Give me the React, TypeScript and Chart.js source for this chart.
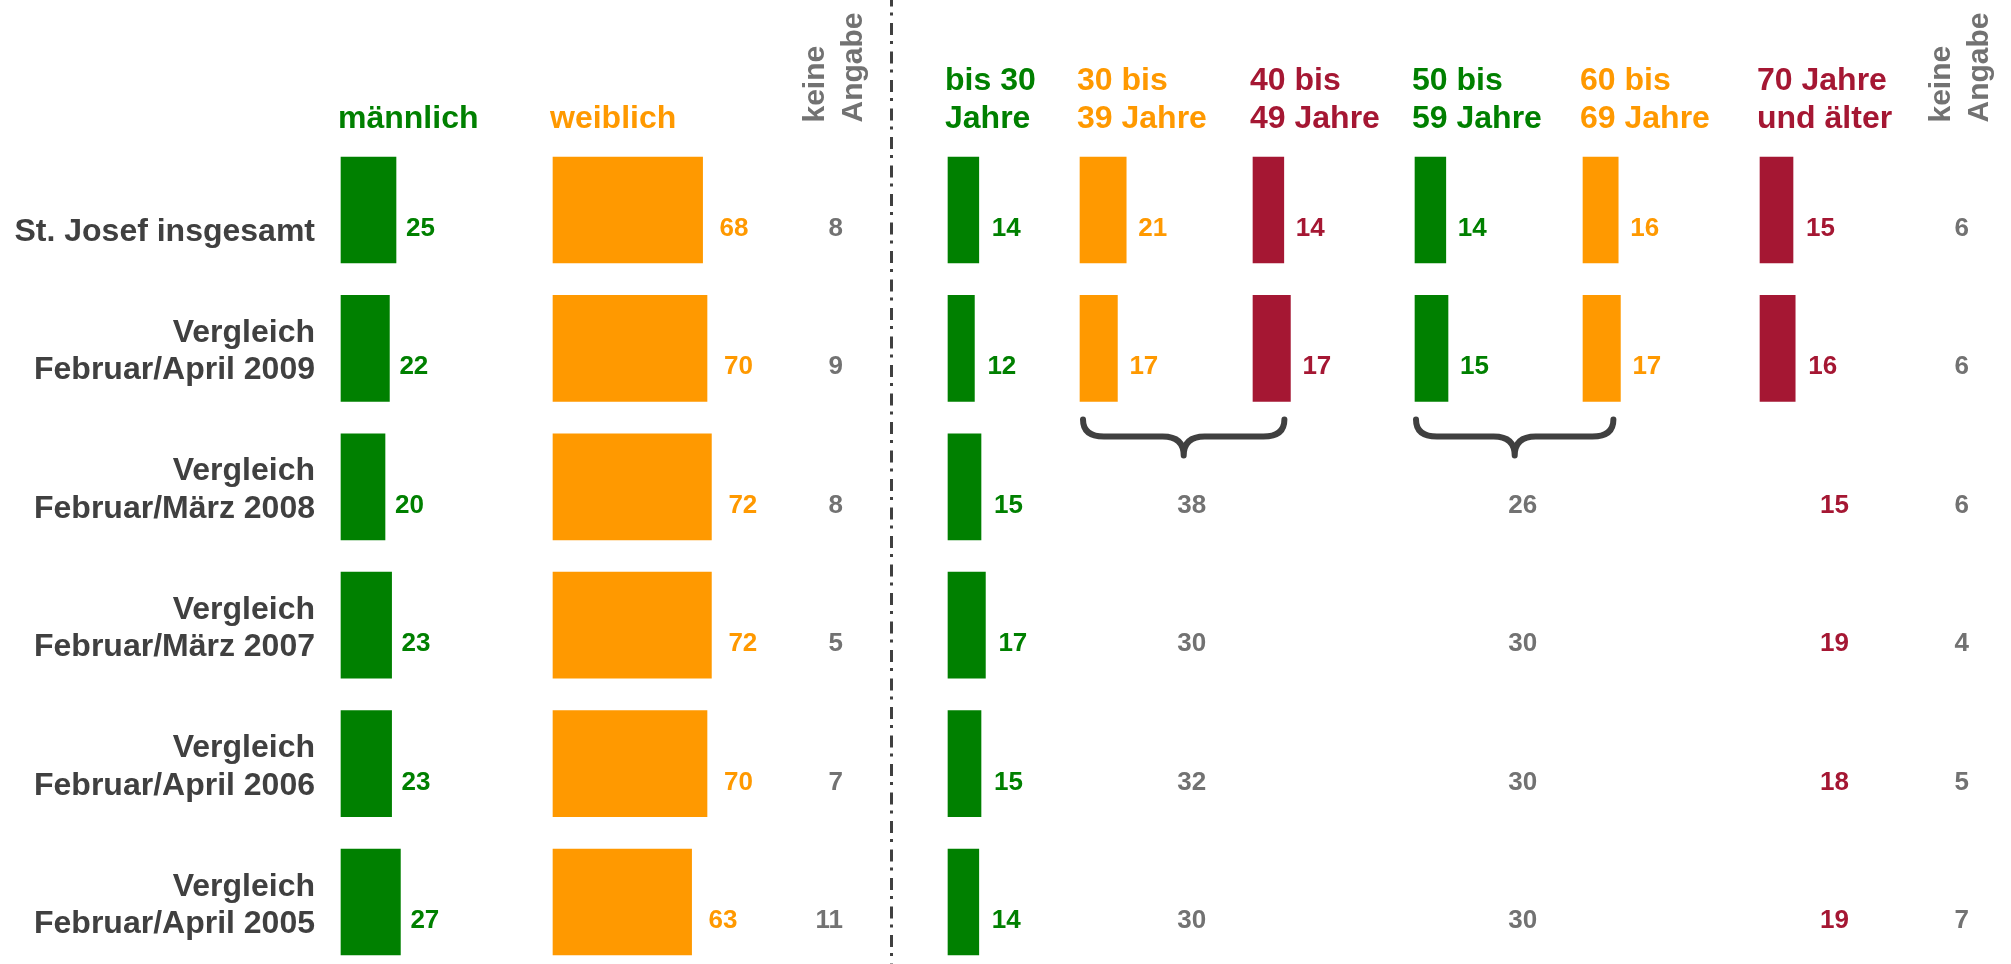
import React, { useEffect, useRef } from "react";
import { Chart, registerables } from "chart.js";

Chart.register(...registerables);

// ---------- data ----------
const rowLabels: string[][] = [
  ["St. Josef insgesamt"],
  ["Vergleich", "Februar/April 2009"],
  ["Vergleich", "Februar/März 2008"],
  ["Vergleich", "Februar/März 2007"],
  ["Vergleich", "Februar/April 2006"],
  ["Vergleich", "Februar/April 2005"],
];
const sexHeaders: string[][] = [["männlich"], ["weiblich"]];
const ageHeaders: string[][] = [
  ["bis 30", "Jahre"],
  ["30 bis", "39 Jahre"],
  ["40 bis", "49 Jahre"],
  ["50 bis", "59 Jahre"],
  ["60 bis", "69 Jahre"],
  ["70 Jahre", "und älter"],
];
const noAnswerHeader: string[] = ["keine", "Angabe"];

const male = [25, 22, 20, 23, 23, 27];
const female = [68, 70, 72, 72, 70, 63];
const noAnswerSex = [8, 9, 8, 5, 7, 11];

const age0029 = [14, 12, 15, 17, 15, 14];
const age3039 = [21, 17, null, null, null, null];
const age4049 = [14, 17, null, null, null, null];
const age3049 = [null, null, 38, 30, 32, 30];
const age5059 = [14, 15, null, null, null, null];
const age6069 = [16, 17, null, null, null, null];
const age5069 = [null, null, 26, 30, 30, 30];
const age70 = [15, 16, 15, 19, 18, 19];
const noAnswerAge = [6, 6, 6, 4, 5, 7];
const DETAIL_ROWS = 2; // rows with a full age breakdown drawn as bars

// ---------- style ----------
const FONT = '"Liberation Sans", Arial, Helvetica, sans-serif';
const GREEN = "#008000";
const ORANGE = "#FF9900";
const RED = "#A51733";
const GRAY = "#727272";
const DARK = "#404040";
const PX_PER_UNIT = 2.2;

const columns = [
  { id: "xMale", width: 212 },
  { id: "xFemale", width: 228 },
  { id: "xNoSex", width: 167 },
  { id: "xA0", width: 132 },
  { id: "xA1", width: 173 },
  { id: "xA2", width: 162 },
  { id: "xA3", width: 168 },
  { id: "xA4", width: 177 },
  { id: "xA5", width: 147 },
  { id: "xNoAge", width: 104 },
];

const barDs = (data: (number | null)[], xAxisID: string, color: string, gap: number) => ({
  data,
  xAxisID,
  yAxisID: "y",
  backgroundColor: color,
  borderWidth: 0,
  grouped: false,
  barThickness: 106,
  clip: false as const,
  labelGap: gap,
});

export default function App() {
  const ref = useRef<HTMLCanvasElement>(null);

  useEffect(() => {
    document.body.style.margin = "0";
    const scales: any = {
      y: { type: "category", offset: false, display: false, grid: { display: false } },
    };
    columns.forEach((c) => {
      scales[c.id] = {
        type: "linear",
        axis: "x",
        position: "bottom",
        stack: "cols",
        stackWeight: c.width,
        min: 0,
        max: c.width / PX_PER_UNIT,
        bounds: "data",
        display: false,
        grid: { display: false },
      };
    });

    const datasets = [
      barDs(male, "xMale", GREEN, 10),
      barDs(female, "xFemale", ORANGE, 17),
      barDs(age0029, "xA0", GREEN, 13),
      barDs(age3039, "xA1", ORANGE, 12),
      barDs(age4049, "xA2", RED, 12),
      barDs(age5059, "xA3", GREEN, 12),
      barDs(age6069, "xA4", ORANGE, 12),
      barDs(age70.map((v, i) => (i < DETAIL_ROWS ? v : null)), "xA5", RED, 13),
    ];

    const overlay = {
      id: "overlay",
      beforeDatasetsDraw(chart: any) {
        const ctx = chart.ctx;
        const sep = chart.scales.xNoSex.left + 110.5;
        ctx.save();
        ctx.strokeStyle = DARK;
        ctx.lineWidth = 3;
        ctx.setLineDash([12, 6, 3, 7.5]);
        ctx.lineDashOffset = 5.5;
        ctx.beginPath();
        ctx.moveTo(sep, 0);
        ctx.lineTo(sep, chart.height);
        ctx.stroke();
        ctx.restore();
      },
      afterDatasetsDraw(chart: any) {
        const ctx = chart.ctx;
        const y = chart.scales.y;
        const area = chart.chartArea;
        const S = chart.scales;
        ctx.save();
        ctx.textBaseline = "alphabetic";

        // row labels
        ctx.font = `bold 32px ${FONT}`;
        ctx.fillStyle = DARK;
        ctx.textAlign = "right";
        rowLabels.forEach((lines, i) => {
          const last = y.getPixelForValue(i) + 31;
          lines.forEach((t, k) => {
            ctx.fillText(t, area.left - 26, last - (lines.length - 1 - k) * 37.5);
          });
        });

        // column headers
        const headerBase = area.top - 82.5;
        const drawHeader = (lines: string[], x: number, color: string) => {
          ctx.font = `bold 32px ${FONT}`;
          ctx.fillStyle = color;
          ctx.textAlign = "left";
          lines.forEach((t, k) => {
            ctx.fillText(t, x, headerBase - (lines.length - 1 - k) * 38);
          });
        };
        drawHeader(sexHeaders[0], S.xMale.left - 3, GREEN);
        drawHeader(sexHeaders[1], S.xFemale.left - 3, ORANGE);
        const ageIds = ["xA0", "xA1", "xA2", "xA3", "xA4", "xA5"];
        const ageColors = [GREEN, ORANGE, RED, GREEN, ORANGE, RED];
        ageIds.forEach((id, k) => drawHeader(ageHeaders[k], S[id].left - 3, ageColors[k]));

        // rotated "keine Angabe" headers
        const drawRotated = (xc: number) => {
          ctx.save();
          ctx.font = `bold 30px ${FONT}`;
          ctx.fillStyle = GRAY;
          ctx.textAlign = "left";
          ctx.translate(xc, area.top - 87.5);
          ctx.rotate(-Math.PI / 2);
          ctx.fillText(noAnswerHeader[0], 0, -19);
          ctx.fillText(noAnswerHeader[1], 0, 19);
          ctx.restore();
        };
        const noSexX = S.xNoSex.left + 62;
        const noAgeX = S.xNoAge.left + 62;
        drawRotated(noSexX);
        drawRotated(noAgeX);

        // value labels next to bars
        ctx.font = `bold 26px ${FONT}`;
        ctx.textAlign = "left";
        chart.data.datasets.forEach((ds: any, d: number) => {
          const meta = chart.getDatasetMeta(d);
          meta.data.forEach((el: any, i: number) => {
            const v = ds.data[i];
            if (v === null || v === undefined) return;
            ctx.fillStyle = ds.backgroundColor;
            ctx.fillText(String(v), el.x + ds.labelGap, el.y + 26);
          });
        });

        // 70+ values without bars
        ctx.fillStyle = RED;
        age70.forEach((v, i) => {
          if (i < DETAIL_ROWS) return;
          ctx.fillText(String(v), S.xA5.left + 60, y.getPixelForValue(i) + 26);
        });

        // keine Angabe values
        ctx.fillStyle = GRAY;
        ctx.textAlign = "right";
        noAnswerSex.forEach((v, i) => ctx.fillText(String(v), noSexX, y.getPixelForValue(i) + 26));
        noAnswerAge.forEach((v, i) => ctx.fillText(String(v), noAgeX, y.getPixelForValue(i) + 26));

        // braces + combined values
        const yRef = y.getPixelForValue(DETAIL_ROWS - 1);
        const drawBrace = (x1: number, x2: number) => {
          const top = yRef + 71;
          const mid = yRef + 88;
          const tip = yRef + 107;
          const xm = (x1 + x2) / 2;
          const r = 21;
          ctx.save();
          ctx.strokeStyle = DARK;
          ctx.lineWidth = 6;
          ctx.lineCap = "round";
          ctx.lineJoin = "round";
          ctx.beginPath();
          ctx.moveTo(x1, top);
          ctx.quadraticCurveTo(x1, mid, x1 + r, mid);
          ctx.lineTo(xm - r, mid);
          ctx.quadraticCurveTo(xm, mid, xm, tip);
          ctx.quadraticCurveTo(xm, mid, xm + r, mid);
          ctx.lineTo(x2 - r, mid);
          ctx.quadraticCurveTo(x2, mid, x2, top);
          ctx.stroke();
          ctx.restore();
          return xm;
        };
        const m1 = drawBrace(
          S.xA1.getPixelForValue(0) + 3,
          S.xA2.getPixelForValue(age4049[DETAIL_ROWS - 1] as number) - 6
        );
        const m2 = drawBrace(
          S.xA3.getPixelForValue(0) + 1,
          S.xA4.getPixelForValue(age6069[DETAIL_ROWS - 1] as number) - 7
        );
        ctx.font = `bold 26px ${FONT}`;
        ctx.fillStyle = GRAY;
        ctx.textAlign = "center";
        age3049.forEach((v, i) => {
          if (v === null) return;
          ctx.fillText(String(v), m1 + 8, y.getPixelForValue(i) + 26);
        });
        age5069.forEach((v, i) => {
          if (v === null) return;
          ctx.fillText(String(v), m2 + 8, y.getPixelForValue(i) + 26);
        });

        ctx.restore();
      },
    };

    const chart = new Chart(ref.current as HTMLCanvasElement, {
      type: "bar",
      data: {
        labels: rowLabels.map((l) => l.join(" ")),
        datasets: datasets as any,
      },
      options: {
        indexAxis: "y",
        animation: false,
        responsive: false,
        devicePixelRatio: 1,
        events: [],
        layout: { padding: { left: 341, right: 0, top: 210, bottom: 62 } },
        plugins: {
          legend: { display: false },
          tooltip: { enabled: false },
          title: { display: false },
        },
        scales,
      } as any,
      plugins: [overlay],
    });
    return () => chart.destroy();
  }, []);

  return (
    <div style={{ position: "absolute", left: 0, top: 0, width: 2011, height: 964, background: "#fff" }}>
      <canvas ref={ref} width={2011} height={964} style={{ display: "block" }} />
    </div>
  );
}
